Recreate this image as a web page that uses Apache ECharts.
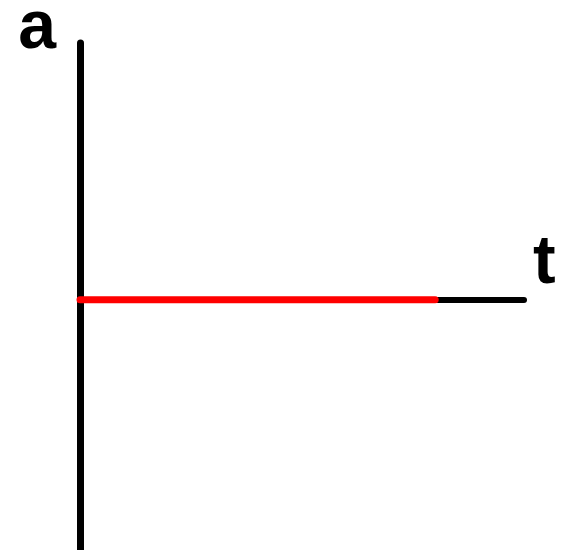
<html>
    <head>
        <meta http-equiv="Content-Type" content="text/html; charset=utf-8" />
        <title></title>
        <style>
            body { margin: 0; background: #fff; }
        </style>
    </head>
    <body>
        <div id="main" style="width: 561px;height:550px;"></div>
    </body>
    <script src="https://cdn.jsdelivr.net/npm/echarts@6/dist/echarts.min.js" type="text/javascript"></script>
    <script type="text/javascript">
    // a-t graph: acceleration stays at zero
    var tValues = [0, 8];
    var aValues = [0, 0];
    var axisNames = ['t', 'a'];

    var points = [];
    for (var i = 0; i < tValues.length; i++) {
        points.push([tValues[i], aValues[i]]);
    }

    var myChart = echarts.init(document.getElementById('main'));
    myChart.setOption({
        animation: false,
        grid: {
            left: 80,
            right: 37,
            top: 43,
            bottom: 1,
            containLabel: false,
            outerBoundsMode: 'none'
        },
        xAxis: {
            type: 'value',
            min: 0,
            max: 10,
            name: axisNames[0],
            nameLocation: 'end',
            nameGap: 9,
            nameTextStyle: {
                fontFamily: 'Liberation Sans',
                fontWeight: 'bold',
                fontSize: 68,
                color: '#000',
                verticalAlign: 'bottom',
                padding: [0, 0, 1, 0]
            },
            axisLine: {
                onZero: true,
                lineStyle: { color: '#000', width: 6, cap: 'round' }
            },
            axisTick: { show: false },
            axisLabel: { show: false },
            splitLine: { show: false }
        },
        yAxis: {
            type: 'value',
            min: -1,
            max: 1.03,
            name: axisNames[1],
            nameLocation: 'end',
            nameGap: -20,
            nameTextStyle: {
                fontFamily: 'Liberation Sans',
                fontWeight: 'bold',
                fontSize: 68,
                color: '#000',
                align: 'right',
                padding: [0, 24, 0, 0]
            },
            axisLine: {
                lineStyle: { color: '#000', width: 7 }
            },
            axisTick: { show: false },
            axisLabel: { show: false },
            splitLine: { show: false }
        },
        series: [
            {
                type: 'line',
                data: points,
                symbol: 'none',
                z: 10,
                lineStyle: { color: '#ff0000', width: 7, cap: 'round' }
            }
        ]
    });
    </script>
</html>
